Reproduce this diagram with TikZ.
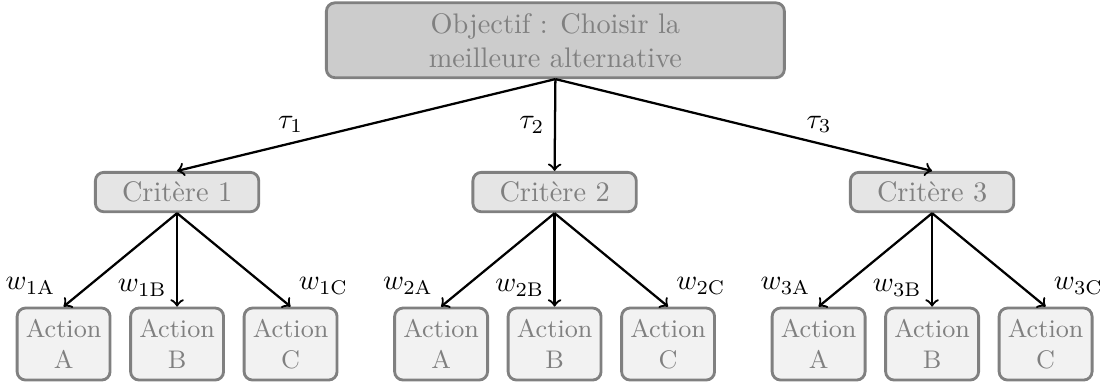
\documentclass[tikz,border=0pt]{standalone}
\usepackage{amsmath, amssymb}
\usepackage{tikz}

\begin{document}
\begin{tikzpicture}[
        box/.style={draw=black!50, line width=1pt, rounded corners=3pt, text=black!50, align=center},
        goal/.style={box, fill=black!20, minimum width=5.69cm, minimum height=0.93cm},
        crit/.style={box, fill=black!10, minimum width=2.03cm, minimum height=0.48cm},
        act/.style={box, fill=black!5, minimum width=1.155cm, minimum height=0.895cm, inner sep=1pt, font=\small},
        link/.style={->, thick, black}
    ]
                \useasboundingbox (0,0) rectangle (13.84,-4.78);
                \node[goal] (obj) at (6.90,-0.50) {Objectif : Choisir la\\meilleure alternative};
                \node[crit] (crit1) at (2.20,-2.386) {Crit\`ere 1};
                \node[crit] (crit2) at (6.89,-2.386) {Crit\`ere 2};
                \node[crit] (crit3) at (11.58,-2.386) {Crit\`ere 3};
                \node[act] (act1a) at (0.79,-4.274) {Action\\A};
                \node[act] (act1b) at (2.20,-4.274) {Action\\B};
                \node[act] (act1c) at (3.61,-4.274) {Action\\C};
                \node[act] (act2a) at (5.48,-4.274) {Action\\A};
                \node[act] (act2b) at (6.89,-4.274) {Action\\B};
                \node[act] (act2c) at (8.30,-4.274) {Action\\C};
                \node[act] (act3a) at (10.17,-4.274) {Action\\A};
                \node[act] (act3b) at (11.58,-4.274) {Action\\B};
                \node[act] (act3c) at (12.99,-4.274) {Action\\C};
                \draw[link] (obj.south) -- node[above, pos=0.7] {$\tau_1$} (crit1.north);
                \draw[link] (obj.south) -- node[left] {$\tau_2$} (crit2.north);
                \draw[link] (obj.south) -- node[above, pos=0.7] {$\tau_3$} (crit3.north);
                \draw[link] (crit1.south) -- node[above left, pos=0.98] {$w_{1\mathrm{A}}$} (act1a.north);
                \draw[link] (crit1.south) -- node[left, pos=0.8] {$w_{1\mathrm{B}}$} (act1b.north);
                \draw[link] (crit1.south) -- node[above right, pos=0.98] {$w_{1\mathrm{C}}$} (act1c.north);
                \draw[link] (crit2.south) -- node[above left, pos=0.98] {$w_{2\mathrm{A}}$} (act2a.north);
                \draw[link] (crit2.south) -- node[left, pos=0.8] {$w_{2\mathrm{B}}$} (act2b.north);
                \draw[link] (crit2.south) -- node[above right, pos=0.98] {$w_{2\mathrm{C}}$} (act2c.north);
                \draw[link] (crit3.south) -- node[above left, pos=0.98] {$w_{3\mathrm{A}}$} (act3a.north);
                \draw[link] (crit3.south) -- node[left, pos=0.8] {$w_{3\mathrm{B}}$} (act3b.north);
                \draw[link] (crit3.south) -- node[above right, pos=0.98] {$w_{3\mathrm{C}}$} (act3c.north);
\end{tikzpicture}
\end{document}
